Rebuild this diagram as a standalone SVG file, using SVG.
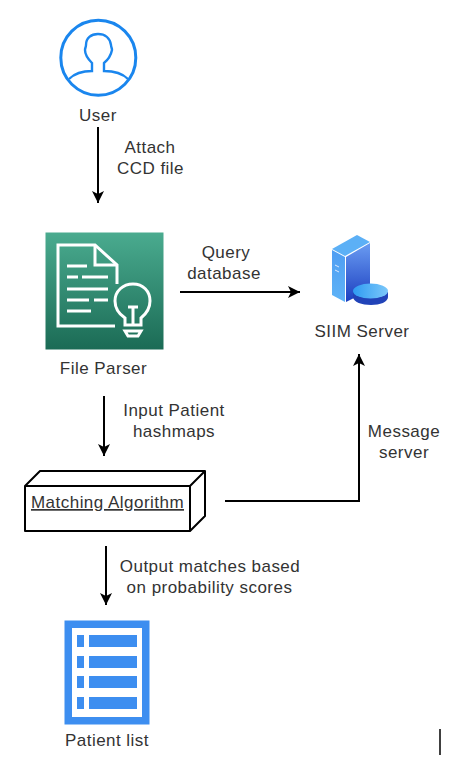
<svg xmlns="http://www.w3.org/2000/svg" width="472" height="776" viewBox="0 0 472 776">
<style>
text{font-family:"Liberation Sans",Arial,sans-serif;font-size:17px;letter-spacing:.47px;fill:#333;text-anchor:middle}
.c{fill:none;stroke:#000;stroke-width:2}
.w{fill:none;stroke:#fff;stroke-width:3}
.b{fill:#3d8ef0}
</style>
<defs>
<marker id="a" markerUnits="userSpaceOnUse" markerWidth="14" markerHeight="14" refX="12" refY="6" orient="auto"><path d="M0 0L12 6L0 12L3 6Z" fill="#000"/></marker>
<linearGradient id="g" x1="0" y1="0" x2="0" y2="1"><stop offset="0" stop-color="#4aab8f"/><stop offset="1" stop-color="#1b6b55"/></linearGradient>
<linearGradient id="s" x1="0" y1="0" x2="0" y2="1"><stop offset="0" stop-color="#6a9cf2"/><stop offset="1" stop-color="#1c3fc0"/></linearGradient>
<linearGradient id="l" x1="0" y1="0" x2="0" y2="1"><stop offset="0" stop-color="#4f9df2"/><stop offset="1" stop-color="#5fb4f7"/></linearGradient>
<linearGradient id="t" x1="0" y1="0" x2="1" y2="0"><stop offset="0" stop-color="#2f9bf2"/><stop offset="1" stop-color="#7cc8fa"/></linearGradient>
</defs>
<rect width="472" height="776" fill="#fff"/>
<g id="connectors">
<path class="c" d="M98 127V203" marker-end="url(#a)"/>
<path class="c" d="M180 292H300" marker-end="url(#a)"/>
<path class="c" d="M104 396V456" marker-end="url(#a)"/>
<path class="c" d="M225 501H359V354" marker-end="url(#a)"/>
<path class="c" d="M106 546V605" marker-end="url(#a)"/>
<path d="M440 729V755" fill="none" stroke="#000" stroke-width="1.5"/>
</g>
<g id="user">
<circle cx="98.300" cy="57.700" r="37.500" fill="none" stroke="#1a86ee" stroke-width="3"/>
<path d="M69 79C75 73 84 71 92 71V63C88 59 85 55 85 50C85 48 86 47 86 45C86 38 91 34 98 34C105 34 110 38 111 45C111 47 112 48 112 50C111 55 109 59 104 63V71C112 71 122 73 128 79" fill="none" stroke="#1a86ee" stroke-width="2.400"/>
<text x="98" y="121">User</text>
</g>
<text x="150" y="153">Attach</text>
<text x="150.500" y="174">CCD file</text>
<g id="file-parser">
<rect x="45.500" y="232.500" width="118" height="117" fill="url(#g)"/>
<path class="w" d="M115 326H58V245H95L117 265V284"/>
<path class="w" d="M95 245V265H117"/>
<path class="w" d="M67 266H87M67 277H78M82 277H108M67 289H108M67 300H89M94 300H108M67 311H91"/>
<path class="w" d="M125 325V318C119 314 115 308 115 301C115 291 123 284 133 284C143 284 150 291 150 301C150 308 146 314 141 318V325ZM128 307H138M133 307V325M125 331L128 336H138L141 331Z"/>
<text x="103.500" y="374">File Parser</text>
</g>
<text x="226" y="258">Query</text>
<text x="224" y="279">database</text>
<g id="siim-server">
<path d="M332 249L357 235L370 242L345 256Z" fill="#5cb0f6"/>
<path d="M332 250L345 257V302L332 295Z" fill="url(#l)"/>
<path d="M346 257L370 243V288C358 290 354 294 354 298L346 302Z" fill="url(#s)"/>
<path d="M335 265L339 267M335 270L339 272" stroke="#dbe9ff" stroke-width="1" fill="none"/>
<path d="M353 296V297C353 302 362 305 371 305C380 305 388 302 388 297V292H353Z" fill="#2143b8"/>
<ellipse cx="370.500" cy="291" rx="17.500" ry="7.500" fill="url(#t)"/>
<text x="362" y="337">SIIM Server</text>
</g>
<text x="174" y="416">Input Patient</text>
<text x="174" y="437">hashmaps</text>
<text x="404" y="437">Message</text>
<text x="404" y="458">server</text>
<g id="matching-algorithm">
<path d="M25 486L40 471H205V516L190 531H25ZM25 486H190L205 471M190 486V531" fill="#fff" stroke="#000" stroke-width="2" stroke-linejoin="round"/>
<text x="107.500" y="508" text-decoration="underline">Matching Algorithm</text>
</g>
<text x="210" y="572">Output matches based</text>
<text x="209.500" y="593">on probability scores</text>
<g id="patient-list">
<rect x="64.500" y="620.500" width="85" height="104" class="b"/>
<rect x="72" y="628" width="70" height="89" fill="#fff"/>
<rect x="77" y="635" width="7" height="12" class="b"/><rect x="89" y="635" width="48" height="12" class="b"/>
<rect x="77" y="656" width="7" height="12" class="b"/><rect x="89" y="656" width="48" height="12" class="b"/>
<rect x="77" y="676" width="7" height="12" class="b"/><rect x="89" y="676" width="48" height="12" class="b"/>
<rect x="77" y="697" width="7" height="12" class="b"/><rect x="89" y="697" width="48" height="12" class="b"/>
<text x="107" y="746">Patient list</text>
</g>
</svg>
